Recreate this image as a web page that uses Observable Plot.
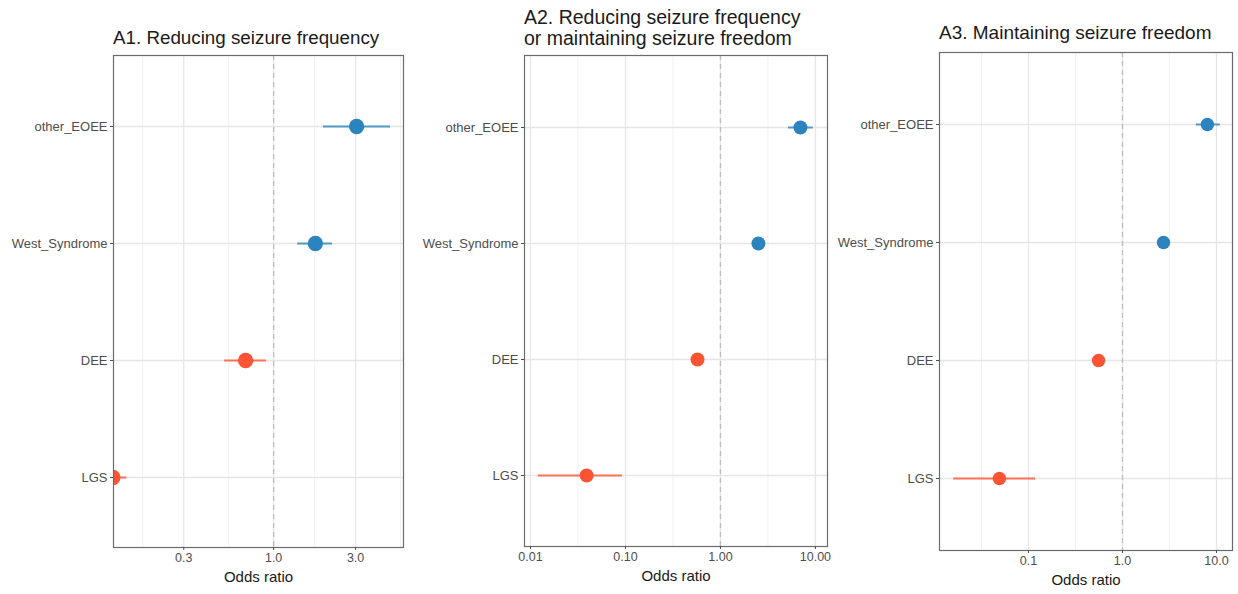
<!DOCTYPE html>
<html>
<head>
<meta charset="utf-8">
<script src="https://cdn.jsdelivr.net/npm/d3@7"></script>
<script src="https://cdn.jsdelivr.net/npm/@observablehq/plot@0.6"></script>
<style>
  html, body { margin: 0; padding: 0; background: #fff; }
  #wrap { position: relative; width: 1238px; height: 594px; overflow: hidden; font-family: "Liberation Sans", Arial, sans-serif; }
  .panel { position: absolute; top: 0; overflow: visible; }
  .title { position: absolute; color: #1a1a1a; white-space: nowrap; }
</style>
</head>
<body>
<div id="wrap"></div>
<script>
// ---- Data ----
const categories = ["other_EOEE", "West_Syndrome", "DEE", "LGS"];
const groups = ["higher", "higher", "lower", "lower"];

// A1. Reducing seizure frequency
const a1OR = [3.04, 1.75, 0.687, 0.116];
const a1Lo = [1.95, 1.38, 0.519, 0.08];
const a1Hi = [4.79, 2.2, 0.91, 0.14];

// A2. Reducing seizure frequency or maintaining seizure freedom
const a2OR = [6.95, 2.51, 0.573, 0.039];
const a2Lo = [5.2, 2.2, 0.5, 0.0121];
const a2Hi = [9.5, 2.85, 0.66, 0.093];

// A3. Maintaining seizure freedom
const a3OR = [8.0, 2.73, 0.556, 0.049];
const a3Lo = [6.1, 2.4, 0.49, 0.016];
const a3Hi = [11.0, 3.1, 0.63, 0.119];

// axis breaks
const a1Ticks = [0.3, 1, 3];
const a1TickLabels = ["0.3", "1.0", "3.0"];
const a1Minor = [0.1732, 0.5477, 1.732, 5.477];
const a2Ticks = [0.01, 0.1, 1, 10];
const a2TickLabels = ["0.01", "0.10", "1.00", "10.00"];
const a2Minor = [0.03162, 0.3162, 3.162];
const a3Ticks = [0.1, 1, 10];
const a3TickLabels = ["0.1", "1.0", "10.0"];
const a3Minor = [0.03162, 0.3162, 3.162];

const titles = ["A1. Reducing seizure frequency",
                "A2. Reducing seizure frequency\nor maintaining seizure freedom",
                "A3. Maintaining seizure freedom"];

// ---- Build ----
function rows(or, lo, hi) {
  return categories.map((c, i) => ({cat: c, group: groups[i], or: or[i], lo: lo[i], hi: hi[i]}));
}

const panels = [
  {left: 0, width: 410, ml: 113, mr: 7, mt: 55, mb: 47, domain: [0.117, 5.7],
   ticks: a1Ticks, labels: a1TickLabels, minor: a1Minor, data: rows(a1OR, a1Lo, a1Hi), r: 7.7,
   title: titles[0], tLeft: 113, tTop: 29, tSize: 18.8, lh: 18.8},
  {left: 410, width: 420, ml: 114, mr: 3, mt: 55, mb: 48, domain: [0.00865, 13.4],
   ticks: a2Ticks, labels: a2TickLabels, minor: a2Minor, data: rows(a2OR, a2Lo, a2Hi), r: 7,
   title: titles[1], tLeft: 524, tTop: 7, tSize: 19.5, lh: 20.5},
  {left: 830, width: 408, ml: 109, mr: 6, mt: 52, mb: 44, domain: [0.0113, 14.8],
   ticks: a3Ticks, labels: a3TickLabels, minor: a3Minor, data: rows(a3OR, a3Lo, a3Hi), r: 6.7,
   title: titles[2], tLeft: 939, tTop: 22.5, tSize: 19, lh: 19}
];

const wrap = document.getElementById("wrap");

panels.forEach(p => {
  const chart = Plot.plot({
    width: p.width,
    height: 594,
    marginLeft: p.ml, marginRight: p.mr, marginTop: p.mt, marginBottom: p.mb,
    style: {fontFamily: '"Liberation Sans", Arial, sans-serif', background: "transparent", overflow: "visible"},
    x: {type: "log", domain: p.domain},
    y: {type: "point", domain: categories, padding: 0.6},
    color: {domain: ["higher", "lower"], range: ["#2c84bf", "#ff5434"]},
    marks: [
      Plot.ruleX(p.minor, {stroke: "#ededed", strokeWidth: 0.8}),
      Plot.ruleX(p.ticks, {stroke: "#e6e6e6", strokeWidth: 1.3}),
      Plot.ruleY(categories, {stroke: "#e6e6e6", strokeWidth: 1.3}),
      Plot.ruleX([1], {stroke: "#bdbdbd", strokeWidth: 1.3, strokeDasharray: "5,4"}),
      Plot.ruleY(p.data, {y: "cat", x1: "lo", x2: "hi", stroke: "group", strokeWidth: 2, strokeOpacity: 0.8, clip: true}),
      Plot.dot(p.data, {x: "or", y: "cat", r: p.r, fill: "group", stroke: null, clip: true}),
      Plot.frame({stroke: "#6b6b6b", strokeWidth: 1.2}),
      Plot.axisY({tickSize: 3, tickPadding: 3, fontSize: 13, color: "#4d4d4d", label: null}),
      Plot.axisX({ticks: p.ticks, tickFormat: d => p.labels[p.ticks.indexOf(d)], tickSize: 3, tickPadding: 3,
                  fontSize: 12.5, color: "#4d4d4d", label: null}),
      Plot.text(["Odds ratio"], {frameAnchor: "bottom", dy: 34, fontSize: 15, fill: "#1a1a1a"})
    ]
  });
  chart.classList.add("panel");
  chart.style.left = p.left + "px";
  wrap.appendChild(chart);

  const t = document.createElement("div");
  t.className = "title";
  t.style.left = p.tLeft + "px";
  t.style.top = p.tTop + "px";
  t.style.fontSize = p.tSize + "px";
  t.style.lineHeight = p.lh + "px";
  t.innerHTML = p.title.split("\n").join("<br>");
  wrap.appendChild(t);
});
</script>
</body>
</html>
